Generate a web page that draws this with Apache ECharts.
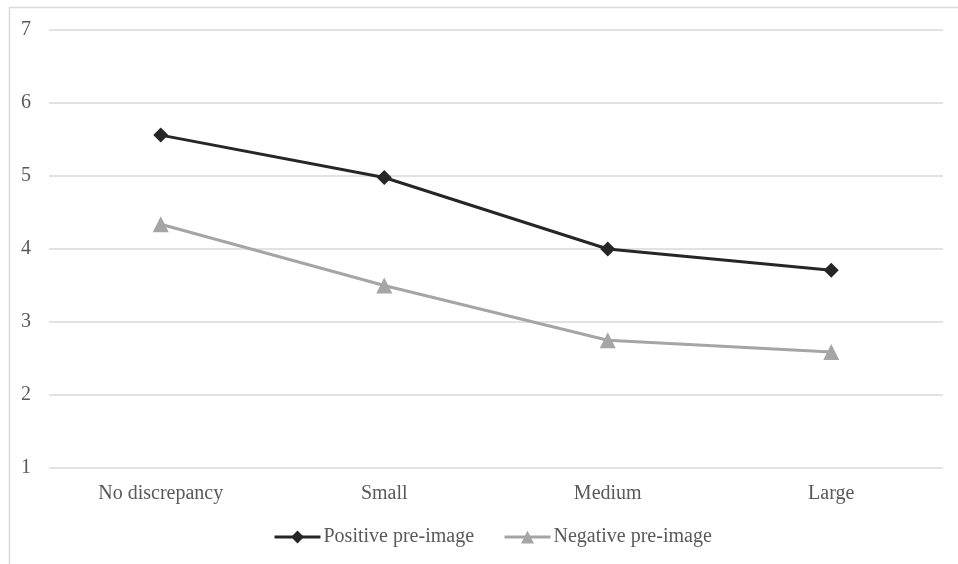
<!DOCTYPE html>
<html><head><meta charset="utf-8">
<script src="https://cdn.jsdelivr.net/npm/echarts@6/dist/echarts.min.js"></script>
<style>html,body{margin:0;padding:0;background:#fff}#c{width:958px;height:564px}</style>
</head><body><div id="c"></div>
<script>
const categories = ['No discrepancy', 'Small', 'Medium', 'Large'];
const positiveValues = [5.56, 4.98, 4.0, 3.71];
const negativeValues = [4.34, 3.5, 2.75, 2.59];
const yTicks = { min: 1, max: 7, interval: 1 };
const seriesNames = ['Positive pre-image', 'Negative pre-image'];

const font = 'Liberation Serif, Times New Roman, serif';
const chart = echarts.init(document.getElementById('c'), null, { renderer: 'canvas' });
chart.setOption({
  animation: false,
  backgroundColor: '#fff',
  graphic: [{
    type: 'rect', left: 7, top: 5, shape: { width: 970, height: 580 },
    style: { fill: 'none', stroke: '#d9d9d9', lineWidth: 1.5 }, silent: true, z: -1
  }],
  grid: { left: 49, right: 15, top: 30, bottom: 96, containLabel: false },
  xAxis: {
    type: 'category', data: categories, boundaryGap: true,
    axisLine: { show: false }, axisTick: { show: false },
    axisLabel: { color: '#595959', fontFamily: font, fontSize: 20, margin: 16 }
  },
  yAxis: {
    type: 'value', min: yTicks.min, max: yTicks.max, interval: yTicks.interval,
    axisLine: { show: false }, axisTick: { show: false },
    splitLine: { lineStyle: { color: '#d9d9d9', width: 1.5 } },
    axisLabel: { color: '#595959', fontFamily: font, fontSize: 20, margin: 18 }
  },
  legend: {
    bottom: 12, left: 268, itemWidth: 46, itemHeight: 16, itemGap: 29,
    lineStyle: { width: 3 },
    textStyle: { color: '#595959', fontFamily: font, fontSize: 20, padding: [0, 0, 0, -2] },
    data: seriesNames
  },
  series: [{
    name: seriesNames[0], type: 'line', data: positiveValues,
    symbol: 'diamond', symbolSize: 15, color: '#262626',
    lineStyle: { width: 3, color: '#262626' }, itemStyle: { color: '#262626' }
  }, {
    name: seriesNames[1], type: 'line', data: negativeValues,
    symbol: 'triangle', symbolSize: 16, color: '#a5a5a5',
    lineStyle: { width: 3, color: '#a5a5a5' }, itemStyle: { color: '#a5a5a5' }
  }]
});
</script></body></html>
